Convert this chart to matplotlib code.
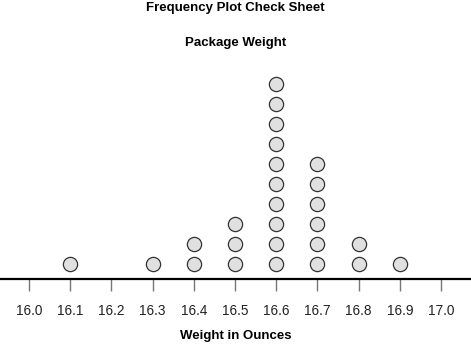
import matplotlib
matplotlib.use("Agg")
import matplotlib.pyplot as plt

weights = [16.1, 16.3, 16.4, 16.5, 16.6, 16.7, 16.8, 16.9]
counts = [1, 1, 2, 3, 10, 6, 2, 1]
tick_values = [16.0, 16.1, 16.2, 16.3, 16.4, 16.5, 16.6, 16.7, 16.8, 16.9, 17.0]
tick_labels = ["16.0", "16.1", "16.2", "16.3", "16.4", "16.5", "16.6", "16.7", "16.8", "16.9", "17.0"]

plt.rcParams['font.family'] = ['Liberation Sans', 'DejaVu Sans']

W, H = 471, 344
fig = plt.figure(figsize=(W / 100, H / 100), dpi=100)
ax = fig.add_axes([0, 0, 1, 1])

px_per_unit = 412.0  # pixels per 1.0 ounce
x0_px = 29.0
ax.set_xlim(16.0 - x0_px / px_per_unit, 16.0 + (W - x0_px) / px_per_unit)
# level k centered at pixel 264 - 20*(k-1)
ax.set_ylim((264 - H) / 20 + 1, 264 / 20 + 1)

xs, ys = [], []
for w, c in zip(weights, counts):
    for k in range(1, c + 1):
        xs.append(w)
        ys.append(k)
ax.scatter(xs, ys, s=105, facecolor='#e0e0e0', edgecolor='#333333', linewidths=0.9, zorder=3)

for s in ['top', 'left', 'right']:
    ax.spines[s].set_visible(False)
ax.spines['bottom'].set_position(('data', 0.25))
ax.spines['bottom'].set_linewidth(1.6)
ax.spines['bottom'].set_color('black')
ax.set_yticks([])
ax.set_xticks(tick_values)
ax.set_xticklabels(tick_labels, fontsize=9.8, color='#222222')
ax.tick_params(axis='x', direction='out', length=8.5, width=1.0, color='#777777', pad=9.5)
ax.patch.set_visible(False)

fig.text(0.5, 1 - 8 / H, "Frequency Plot Check Sheet", ha='center', va='center',
         fontsize=9.5, fontweight='bold')
fig.text(0.5, 1 - 43 / H, "Package Weight", ha='center', va='center',
         fontsize=9.5, fontweight='bold')
fig.text(0.5, 1 - 336 / H, "Weight in Ounces", ha='center', va='center',
         fontsize=9.5, fontweight='bold')

fig.savefig("out.png", dpi=100)
